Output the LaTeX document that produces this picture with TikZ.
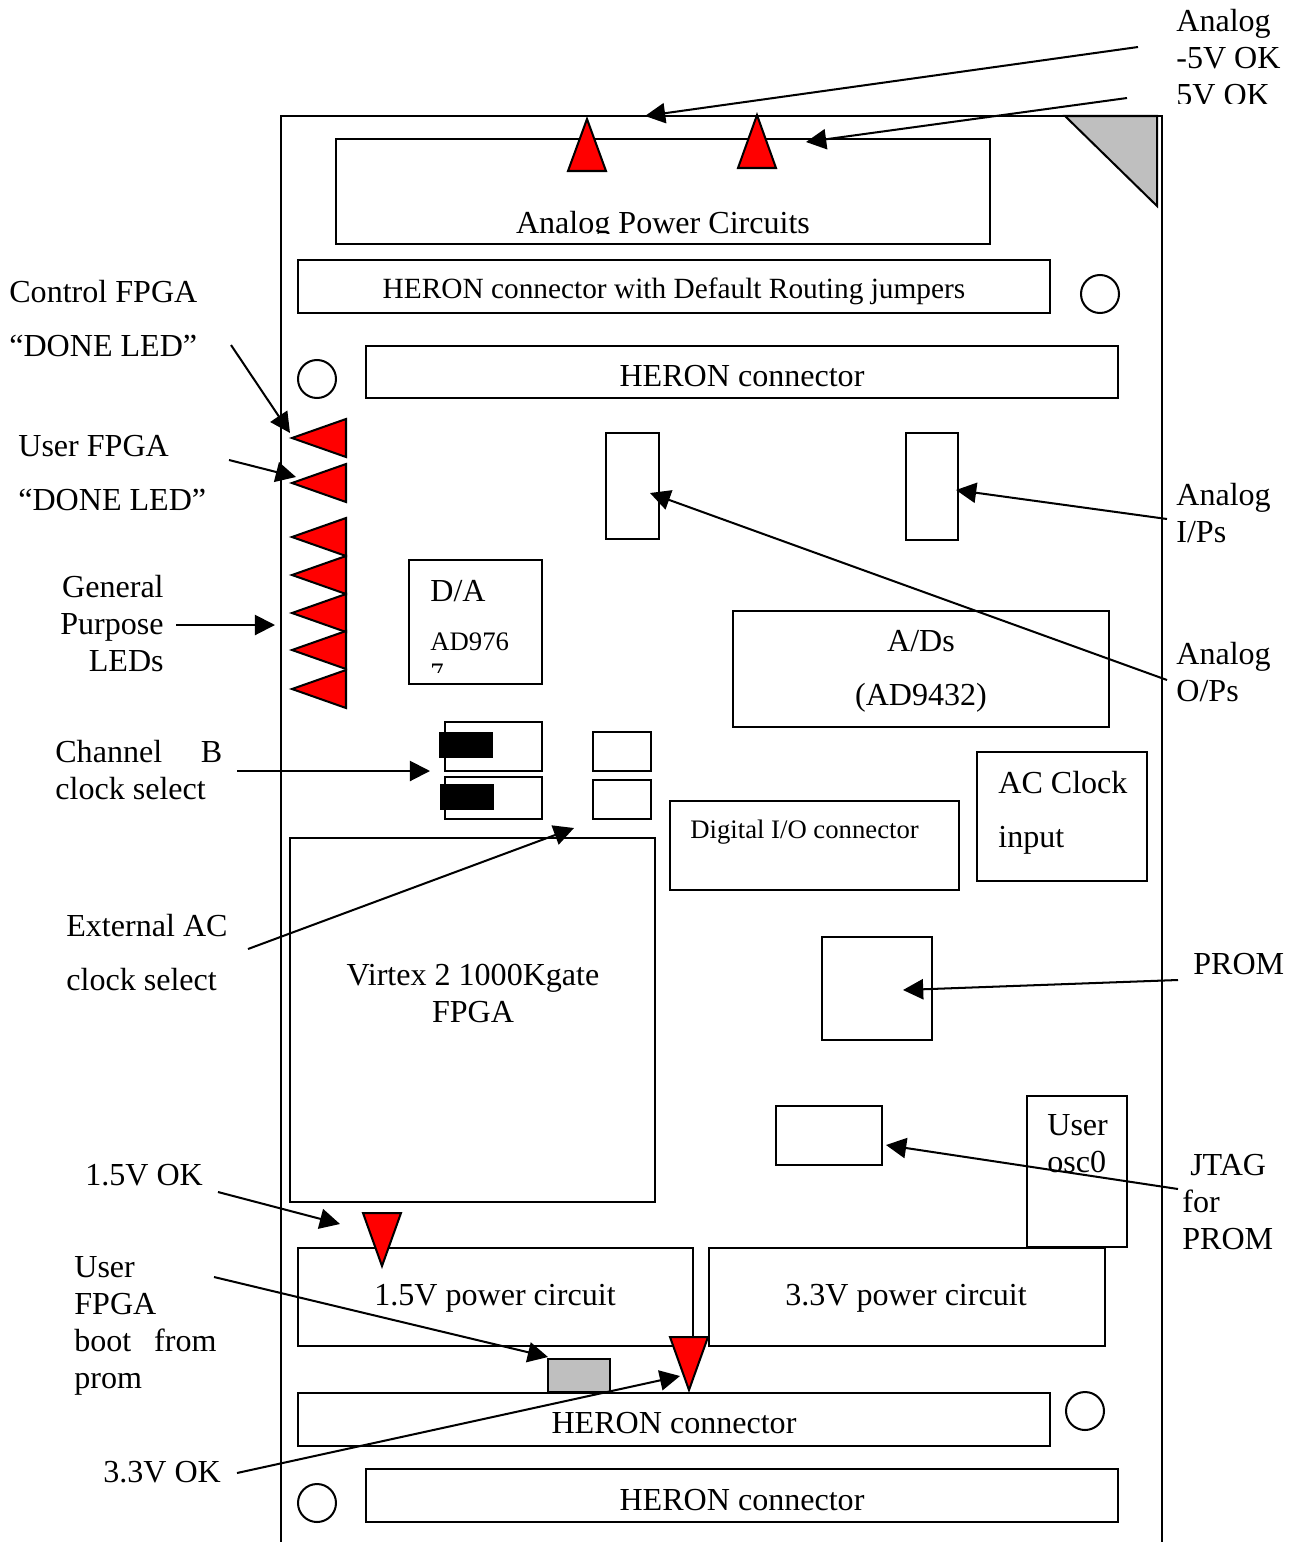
\documentclass[tikz,border=0pt]{standalone}
\usepackage{fontspec}
\setmainfont{Liberation Serif}
\usetikzlibrary{arrows.meta}
\tikzset{
    part/.style 2 args={draw, line width=1.15pt, anchor=north west, inner sep=0pt, xshift=-0.02cm, yshift=0.02cm, minimum width=#1*0.02cm, minimum height=#2*0.02cm},
    hole/.style={draw, line width=1.15pt, circle, inner sep=0pt, minimum size=38*0.02cm},
    led/.style={draw, line width=1.15pt, fill=red},
    greypart/.style={draw, line width=1.15pt, fill=black!25},
    txt/.style={inner sep=0pt, anchor=base west, align=left, font=\fontsize{18.25}{21}\selectfont},
    ctxt/.style={txt, anchor=base, align=center},
    smalltxt/.style={txt, font=\fontsize{15.2}{17.6}\selectfont},
    pointer/.style={line width=1.15pt, -{Triangle[length=11.5pt,width=11.5pt]}},
}
\begin{document}
\begin{tikzpicture}[x=0.02cm, y=-0.02cm]
    \useasboundingbox (0,0) rectangle (1302,1542);

    % board outline, cut off at the bottom
    \draw[line width=1.15pt] (281,1542) -- (281,116) -- (1162,116) -- (1162,1542);
    \draw[greypart] (1065,116) -- (1157,116) -- (1157,206) -- cycle;

    % boxes
    \node[part={654}{105}] (analogpower) at (336,139) {};
    \node[part={752}{53}] (herondefault) at (298,260) {};
    \node[part={752}{52}] (herontop) at (366,346) {};
    \node[part={53}{106}] (jumperout) at (606,433) {};
    \node[part={52}{107}] (jumperin) at (906,433) {};
    \node[part={133}{124}] (dac) at (409,560) {};
    \node[part={376}{116}] (adc) at (733,611) {};
    \node[part={97}{49}] (clksela) at (445,722) {};
    \node[part={97}{42}] (clkselb) at (445,777) {};
    \node[part={58}{39}] (extsela) at (593,732) {};
    \node[part={58}{39}] (extselb) at (593,780) {};
    \node[part={289}{89}] (digio) at (670,801) {};
    \node[part={170}{129}] (acclock) at (977,752) {};
    \node[part={365}{364}] (fpga) at (290,838) {};
    \node[part={110}{103}] (prom) at (822,937) {};
    \node[part={106}{59}] (jtag) at (776,1106) {};
    \node[part={100}{151}] (osc) at (1027,1096) {};
    \node[part={395}{98}] (powerlow) at (298,1248) {};
    \node[part={396}{98}] (powerhigh) at (709,1248) {};
    \node[part={752}{53}] (heronlow) at (298,1393) {};
    \node[part={752}{53}] (heronbottom) at (366,1469) {};
    \node[part={62}{33}, fill=black!25] (bootsel) at (548,1359) {};
    \node[part={54}{26}, fill=black, draw=none] (linka) at (439,732) {};
    \node[part={54}{26}, fill=black, draw=none] (linkb) at (440,784) {};

    % mounting holes
    \node[hole] (holea) at (1100,294) {};
    \node[hole] (holeb) at (317,379) {};
    \node[hole] (holec) at (1085,1411) {};
    \node[hole] (holed) at (317,1503) {};

    % LEDs
    \draw[led] (587,119) -- (568,171) -- (606,171) -- cycle;
    \draw[led] (757,115) -- (738,168) -- (776,168) -- cycle;
    \foreach \ledy in {438,483,537,575,613,650,689}
        \draw[led] (292,\ledy) -- (346,\ledy-19) -- (346,\ledy+19) -- cycle;
    \draw[led] (363,1213) -- (401,1213) -- (382,1266) -- cycle;
    \draw[led] (670,1337) -- (708,1337) -- (689,1390) -- cycle;

    % text in the boxes
    \begin{scope}
        \clip (400,200) rectangle (950,233);
        \node[ctxt] (analogpowertxt) at (663,233) {Analog Power Circuits};
    \end{scope}
    \node[ctxt, font=\fontsize{16.7}{20}\selectfont] (herondefaulttxt) at (674,298) {HERON connector with Default Routing jumpers};
    \node[ctxt] (herontoptxt) at (742,386) {HERON connector};
    \node[txt] (dactxt) at (430,601) {D/A};
    \begin{scope}
        \clip (420,625) rectangle (530,672);
        \node[smalltxt] (dacpart) at (430,650) {AD976};
        \node[smalltxt] (dacparttwo) at (430,681) {7};
    \end{scope}
    \node[ctxt] (adctxt) at (921,705) {A/Ds\\[9.6pt](AD9432)};
    \node[smalltxt] (digiotxt) at (690,838) {Digital I/O connector};
    \node[txt] (acclocktxt) at (998,847) {AC Clock\\[9.6pt]input};
    \node[ctxt] (fpgatxt) at (473,1022) {Virtex 2 1000Kgate\\FPGA};
    \node[txt] (osctxt) at (1047,1172) {User\\osc0};
    \node[ctxt] (powerlowtxt) at (495,1305) {1.5V power circuit};
    \node[ctxt] (powerhightxt) at (906,1305) {3.3V power circuit};
    \node[ctxt] (heronlowtxt) at (674,1433) {HERON connector};
    \node[ctxt] (heronbottomtxt) at (742,1510) {HERON connector};

    % text around the board
    \node[txt] (analogtxt) at (1176,68) {Analog\\-5V OK};
    \begin{scope}
        \clip (1170,80) rectangle (1302,103);
        \node[txt] (fivetxt) at (1176,105) {5V OK};
    \end{scope}
    \node[txt] (controltxt) at (9,356) {Control FPGA\\[9.6pt]“DONE LED”};
    \node[txt] (usertxt) at (18,510) {User FPGA\\[9.6pt]“DONE LED”};
    \node[txt, align=right, anchor=base east] (generaltxt) at (164,671) {General\\Purpose\\LEDs};
    \node[txt] (channeltxt) at (55,799) {Channel\hspace{22pt}B\\clock select};
    \node[txt] (externaltxt) at (66,990) {External AC\\[9.6pt]clock select};
    \node[txt] (onefivetxt) at (85,1185) {1.5V OK};
    \node[txt] (boottxt) at (74,1388) {User\\FPGA\\boot\hspace{13pt}from\\prom};
    \node[txt] (threetxt) at (103,1482) {3.3V OK};
    \node[txt] (inputstxt) at (1176,542) {Analog\\I/Ps};
    \node[txt] (outputstxt) at (1176,701) {Analog\\O/Ps};
    \node[txt] (promtxt) at (1193,974) {PROM};
    \node[txt] (jtagtxt) at (1182,1249) {\hspace*{4.5pt}JTAG\\for\\PROM};

    % free ends of the arrows
    \coordinate (minusfivefrom) at (1138,47);
    \coordinate (minusfiveto) at (645,116);
    \coordinate (fivefrom) at (1127,98);
    \coordinate (fiveto) at (806,142);
    \coordinate (controlfrom) at (231,345);
    \coordinate (controlto) at (290,433);
    \coordinate (userfrom) at (229,460);
    \coordinate (userto) at (296,477);
    \coordinate (inputsfrom) at (1167,519);
    \coordinate (inputsto) at (956,490);
    \coordinate (outputsfrom) at (1167,680);
    \coordinate (outputsto) at (650,493);
    \coordinate (generalfrom) at (176,625);
    \coordinate (generalto) at (275,625);
    \coordinate (channelfrom) at (237,771);
    \coordinate (channelto) at (430,771);
    \coordinate (externalfrom) at (248,949);
    \coordinate (externalto) at (574,828);
    \coordinate (promfrom) at (1178,980);
    \coordinate (promto) at (903,990);
    \coordinate (jtagfrom) at (1178,1189);
    \coordinate (jtagto) at (886,1145);
    \coordinate (onefivefrom) at (218,1192);
    \coordinate (onefiveto) at (340,1224);
    \coordinate (bootfrom) at (214,1277);
    \coordinate (bootto) at (548,1357);
    \coordinate (threefrom) at (237,1473);
    \coordinate (threeto) at (680,1376);

    % arrows
    \foreach \arrowname in {minusfive,five,control,user,inputs,outputs,general,channel,external,prom,jtag,onefive,boot,three}
        \draw[pointer] (\arrowname from) -- (\arrowname to);
\end{tikzpicture}
\end{document}
